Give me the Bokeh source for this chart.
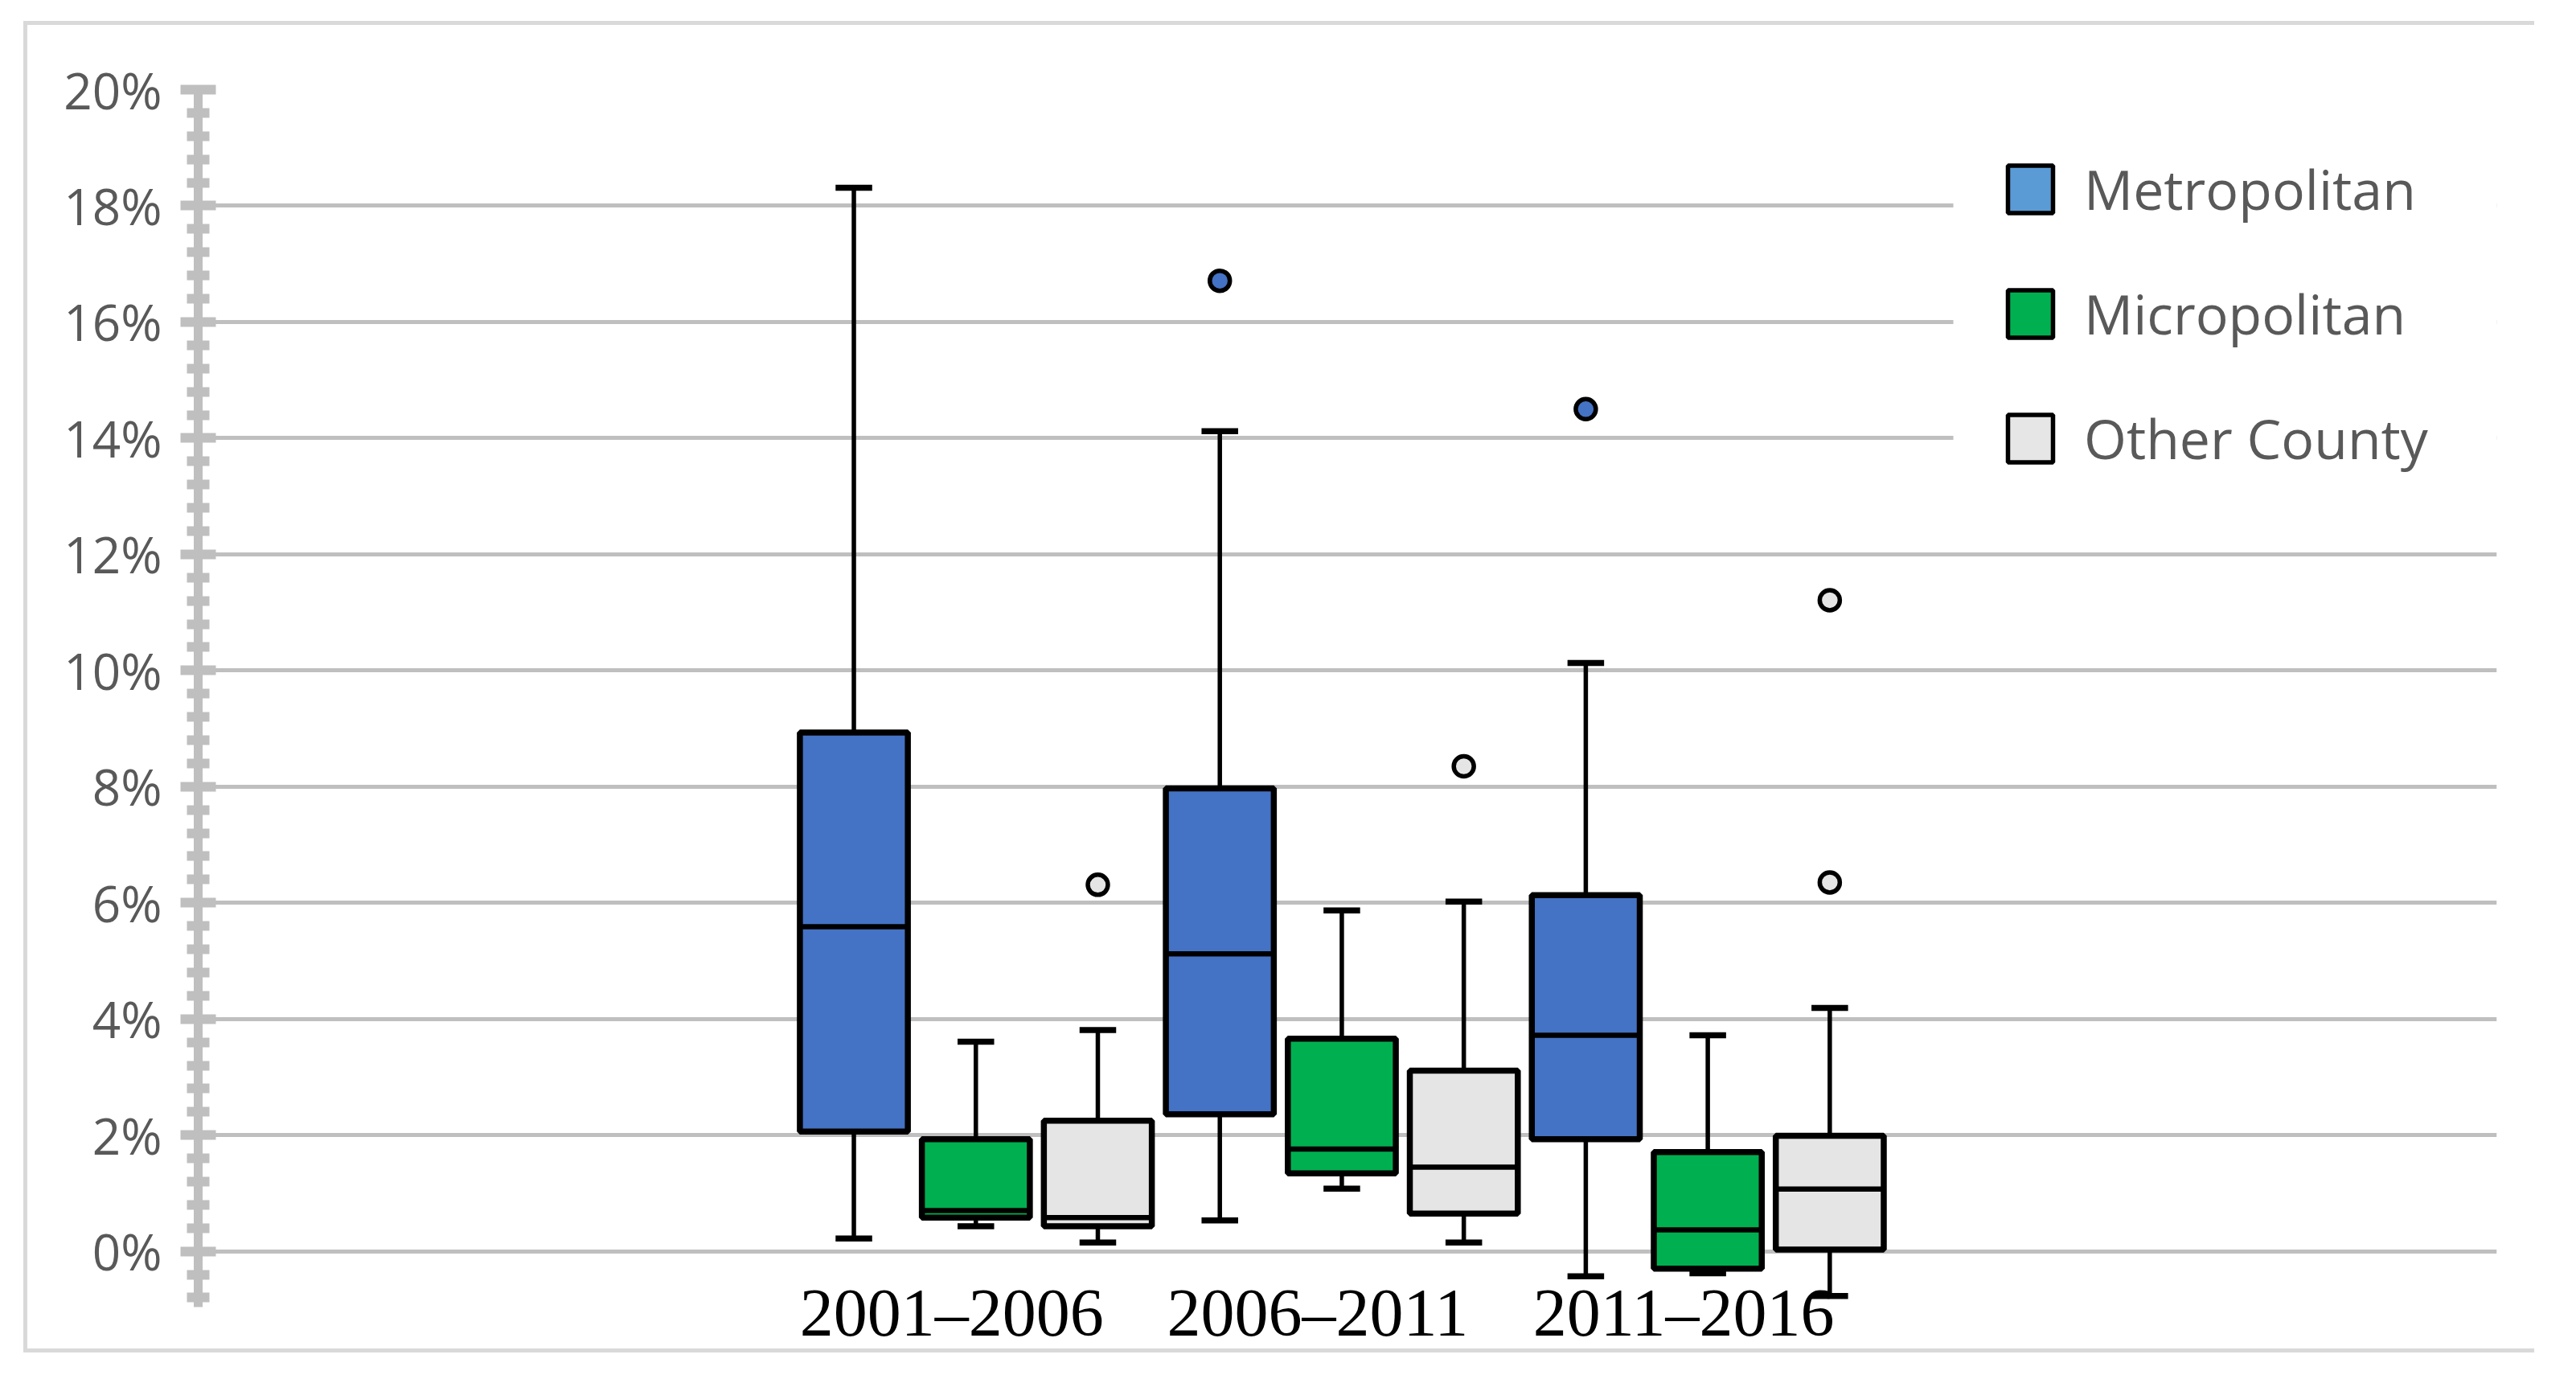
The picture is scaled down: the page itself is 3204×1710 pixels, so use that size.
import numpy as np
from bokeh.plotting import figure
from bokeh.models import ColumnDataSource, FixedTicker, Legend, LegendItem, Range1d, BoxAnnotation
from bokeh.embed import file_html
from bokeh.resources import INLINE

# ---------------- data ----------------
periods = ["2001–2006", "2006–2011", "2011–2016"]
series_names = ["Metropolitan", "Micropolitan", "Other County"]

metro_low = [0.22, 0.53, -0.43]
metro_q1 = [2.06, 2.36, 1.93]
metro_med = [5.59, 5.12, 3.72]
metro_q3 = [8.93, 7.97, 6.13]
metro_high = [18.31, 14.12, 10.13]
metro_out_period = [1, 2]
metro_out_value = [16.71, 14.50]

micro_low = [0.43, 1.08, -0.38]
micro_q1 = [0.58, 1.34, -0.30]
micro_med = [0.70, 1.76, 0.37]
micro_q3 = [1.93, 3.66, 1.71]
micro_high = [3.61, 5.87, 3.72]
micro_out_period = []
micro_out_value = []

other_low = [0.15, 0.15, -0.77]
other_q1 = [0.43, 0.65, 0.03]
other_med = [0.58, 1.45, 1.07]
other_q3 = [2.25, 3.11, 1.99]
other_high = [3.81, 6.02, 4.19]
other_out_period = [0, 1, 2, 2]
other_out_value = [6.31, 8.35, 6.35, 11.21]

y_ticks = [0, 2, 4, 6, 8, 10, 12, 14, 16, 18, 20]
y_tick_labels = ["0%", "2%", "4%", "6%", "8%", "10%", "12%", "14%", "16%", "18%", "20%"]

# ---------------- styles ----------------
box_fill = ["#4472C4", "#00AF50", "#E5E5E5"]
legend_fill = ["#5B9BD5", "#00B050", "#E7E6E6"]
group_pos = [1, 2, 3]
series_off = [-1 / 3, 0, 1 / 3]
box_w = 0.295
cap_w = 0.10
label_shift = -0.066

GRID = "#BFBFBF"
TXT = "#595959"

p = figure(width=3123, height=1656, output_backend="svg", toolbar_location=None,
           x_range=Range1d(-1.125, 5.156), y_range=Range1d(-0.96, 20),
           min_border_left=212, min_border_right=52, min_border_top=80, min_border_bottom=62,
           background_fill_color="white", border_fill_color="white")
p.margin = (26, 0, 0, 29)
p.styles = {"border-top": "5px solid #D9D9D9", "border-left": "5px solid #D9D9D9",
            "border-bottom": "5px solid #D9D9D9"}
p.outline_line_color = None
p.xgrid.visible = False

# y axis
minor = [round(i * 0.4, 1) for i in range(-2, 50) if i % 5 != 0]
yt = FixedTicker(ticks=y_ticks, minor_ticks=minor)
p.yaxis.ticker = yt
p.yaxis.major_label_overrides = {t: l for t, l in zip(y_ticks, y_tick_labels)}
p.yaxis.axis_line_color = GRID
p.yaxis.axis_line_width = 11
p.yaxis.major_tick_line_color = GRID
p.yaxis.major_tick_line_width = 12
p.yaxis.major_tick_in = 22
p.yaxis.major_tick_out = 22
p.yaxis.minor_tick_line_color = GRID
p.yaxis.minor_tick_line_width = 12
p.yaxis.minor_tick_in = 14
p.yaxis.minor_tick_out = 14
p.yaxis.major_label_standoff = 23
p.yaxis.major_label_text_font = "Open Sans"
p.yaxis.major_label_text_font_size = "62px"
p.yaxis.major_label_text_color = TXT
p.ygrid.ticker = yt
p.ygrid.grid_line_color = GRID
p.ygrid.grid_line_width = 5

# x axis (period labels)
label_pos = [g + label_shift for g in group_pos]
p.xaxis.ticker = FixedTicker(ticks=label_pos)
p.xaxis.major_label_overrides = {t: l for t, l in zip(label_pos, periods)}
p.xaxis.axis_line_color = None
p.xaxis.major_tick_line_color = None
p.xaxis.minor_tick_line_color = None
p.xaxis.major_tick_out = 0
p.xaxis.major_tick_in = 0
p.xaxis.major_label_standoff = -40
p.xaxis.major_label_text_font = "Liberation Serif"
p.xaxis.major_label_text_font_size = "84px"
p.xaxis.major_label_text_color = "black"

all_series = [
    (metro_low, metro_q1, metro_med, metro_q3, metro_high, metro_out_period, metro_out_value),
    (micro_low, micro_q1, micro_med, micro_q3, micro_high, micro_out_period, micro_out_value),
    (other_low, other_q1, other_med, other_q3, other_high, other_out_period, other_out_value),
]

legend_items = []
for si, (lo, q1, med, q3, hi, op, ov) in enumerate(all_series):
    xs = [g + series_off[si] for g in group_pos]
    src = ColumnDataSource(dict(
        x=xs, lo=lo, q1=q1, med=med, q3=q3, hi=hi,
        xl=[x - box_w / 2 for x in xs], xr=[x + box_w / 2 for x in xs],
        cl=[x - cap_w / 2 for x in xs], cr=[x + cap_w / 2 for x in xs],
    ))
    # stems
    p.segment(x0="x", y0="q3", x1="x", y1="hi", source=src, line_color="black", line_width=5.5)
    p.segment(x0="x", y0="lo", x1="x", y1="q1", source=src, line_color="black", line_width=5.5)
    # caps
    p.segment(x0="cl", y0="hi", x1="cr", y1="hi", source=src, line_color="black", line_width=7.5)
    p.segment(x0="cl", y0="lo", x1="cr", y1="lo", source=src, line_color="black", line_width=7.5)
    # boxes
    p.vbar(x="x", width=box_w, bottom="q1", top="q3", source=src,
           fill_color=box_fill[si], line_color="black", line_width=7.5)
    # medians
    p.segment(x0="xl", y0="med", x1="xr", y1="med", source=src, line_color="black", line_width=6.5)
    # outliers
    if ov:
        osrc = ColumnDataSource(dict(x=[group_pos[i] + series_off[si] for i in op], y=ov))
        p.scatter(x="x", y="y", source=osrc, size=25, fill_color=box_fill[si],
                  line_color="black", line_width=5.5)
    # legend proxy (nothing drawn in the plot area)
    lsrc = ColumnDataSource(dict(x=np.array([np.nan]), top=np.array([np.nan])))
    lr = p.vbar(x="x", top="top", source=lsrc, width=box_w, fill_color=legend_fill[si],
                line_color="black", line_width=5.5)
    legend_items.append(LegendItem(label=series_names[si], renderers=[lr]))

# white area behind the legend (hides the gridlines there)
p.add_layout(BoxAnnotation(left=3.671, bottom=13.0, top=19.0, fill_color="white",
                           fill_alpha=1.0, line_color=None))

legend = Legend(items=legend_items, location=(2244, 1034),
                glyph_width=70, glyph_height=74, label_height=74,
                label_standoff=32, padding=60, spacing=62,
                label_text_font="Open Sans", label_text_font_size="68px",
                label_text_color=TXT, background_fill_color="white",
                background_fill_alpha=1.0, border_line_color=None, margin=0)
p.add_layout(legend)

open("out.html", "w").write(file_html(p, INLINE))
